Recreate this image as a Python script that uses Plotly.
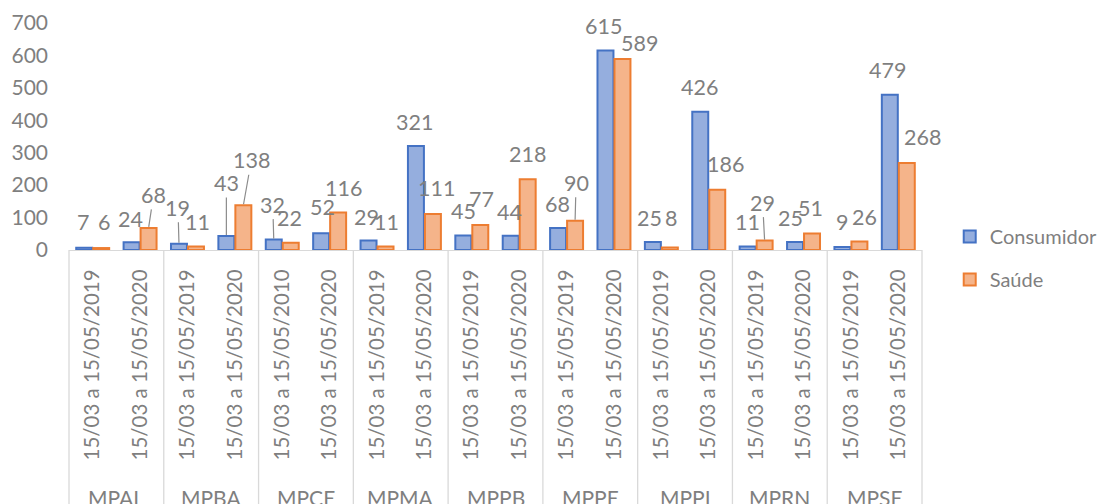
import plotly.graph_objects as go

# ---- data ----
orgaos = ["MPAL", "MPBA", "MPCE", "MPMA", "MPPB", "MPPE", "MPPI", "MPRN", "MPSE"]
periodos = [
    ["15/03 a 15/05/2019", "15/03 a 15/05/2020"],
    ["15/03 a 15/05/2019", "15/03 a 15/05/2020"],
    ["15/03 a 15/05/2010", "15/03 a 15/05/2020"],
    ["15/03 a 15/05/2019", "15/03 a 15/05/2020"],
    ["15/03 a 15/05/2019", "15/03 a 15/05/2020"],
    ["15/03 a 15/05/2019", "15/03 a 15/05/2020"],
    ["15/03 a 15/05/2019", "15/03 a 15/05/2020"],
    ["15/03 a 15/05/2019", "15/03 a 15/05/2020"],
    ["15/03 a 15/05/2019", "15/03 a 15/05/2020"],
]
consumidor = [7, 24, 19, 43, 32, 52, 29, 321, 45, 44, 68, 615, 25, 426, 11, 25, 9, 479]
saude = [6, 68, 11, 138, 22, 116, 11, 111, 77, 218, 90, 589, 8, 186, 29, 51, 26, 268]

# ---- label nudges (pixels) mimicking Excel's label placement ----
c_dx = [-1, -1, -1, 0, -1, 1, -2, -1, 0, -1, -1, -2, -3, -1, 0, -5, 0, -2]
c_dy = [-26, -23, -36, -53, -35, -26, -24, -24, -24, -24, -24, -25, -24, -25, -24, -24, -25, -25]
c_lead = [False, False, True, True, True] + [False] * 13
s_dx = [3, 5, 2, 8, -1, 5, 1, 4, 1, 0, 1, 17, 1, 8, -2, -2, 5, 16]
s_dy = [-26, -33, -24, -45, -25, -24, -24, -26, -26, -25, -38, -16, -29, -26, -38, -25, -25, -26]
s_lead = [False, True, False, True] + [False] * 6 + [True] + [False] * 3 + [True] + [False] * 3

ticktext = [p for grp in periodos for p in grp]
xs = list(range(len(ticktext)))

FONT = "Lato"
GRAY = "#7f7f7f"
BARGAP = 0.283
OFF = (1 - BARGAP) / 4

fig = go.Figure()
fig.add_trace(go.Bar(
    x=xs, y=consumidor, name="Consumidor", legendgroup="c",
    marker=dict(color="#95AEDE", line=dict(color="#4472C4", width=2)),
))
fig.add_trace(go.Bar(
    x=xs, y=saude, name="Saúde", legendgroup="s",
    marker=dict(color="#F5B48A", line=dict(color="#ED7D31", width=2)),
))

annotations = []
for series, dxs, dys, leads, sign in [
    (consumidor, c_dx, c_dy, c_lead, -1),
    (saude, s_dx, s_dy, s_lead, 1),
]:
    for i, v in enumerate(series):
        if leads[i]:
            annotations.append(dict(
                x=i + sign * OFF, y=v, xref="x", yref="y", text=str(v),
                showarrow=True, arrowhead=0, arrowwidth=1.2, arrowcolor="#8c8c8c",
                ax=dxs[i], ay=dys[i], standoff=1,
                font=dict(family=FONT, size=21.5, color=GRAY),
            ))
        else:
            annotations.append(dict(
                x=i + sign * OFF, y=v, xref="x", yref="y", text=str(v),
                showarrow=False, xshift=dxs[i], yshift=-dys[i],
                yanchor="middle", xanchor="center",
                font=dict(family=FONT, size=21.5, color=GRAY),
            ))

n_groups = len(orgaos)
for g, name in enumerate(orgaos):
    annotations.append(dict(
        x=(2 * g + 1) / (2 * n_groups), y=-1.0925, xref="paper", yref="paper",
        text=name, showarrow=False, xanchor="center", yanchor="middle",
        font=dict(family=FONT, size=21, color=GRAY),
    ))

shapes = []
for k in range(n_groups + 1):
    shapes.append(dict(
        type="line", xref="paper", yref="paper",
        x0=k / n_groups, x1=k / n_groups, y0=0, y1=-1.2,
        line=dict(color="#d9d9d9", width=1.3),
    ))

fig.update_layout(
    width=1104, height=504,
    margin=dict(l=69, r=182, t=23, b=254, autoexpand=False),
    paper_bgcolor="white", plot_bgcolor="white",
    barmode="group", bargap=BARGAP, bargroupgap=0.06,
    font=dict(family=FONT, size=21, color=GRAY),
    annotations=annotations, shapes=shapes,
    legend=dict(
        x=1.0325, y=0.145, xanchor="left", yanchor="top",
        font=dict(family=FONT, size=20, color=GRAY),
        tracegroupgap=14, itemwidth=30,
        bgcolor="rgba(0,0,0,0)",
    ),
    xaxis=dict(
        tickmode="array", tickvals=xs, ticktext=ticktext, tickangle=-90,
        range=[-0.5, len(xs) - 0.5], showgrid=False, zeroline=False,
        showline=True, linecolor="#d9d9d9", linewidth=1.3,
        ticks="", ticklabelstandoff=10, automargin=False,
        tickfont=dict(family=FONT, size=20.5, color=GRAY),
    ),
    yaxis=dict(
        range=[0, 700], dtick=100, showgrid=False, zeroline=False,
        showline=False, ticks="", ticklabelstandoff=20, automargin=False,
        tickfont=dict(family=FONT, size=21, color=GRAY),
    ),
)

fig.write_html("out.html")
